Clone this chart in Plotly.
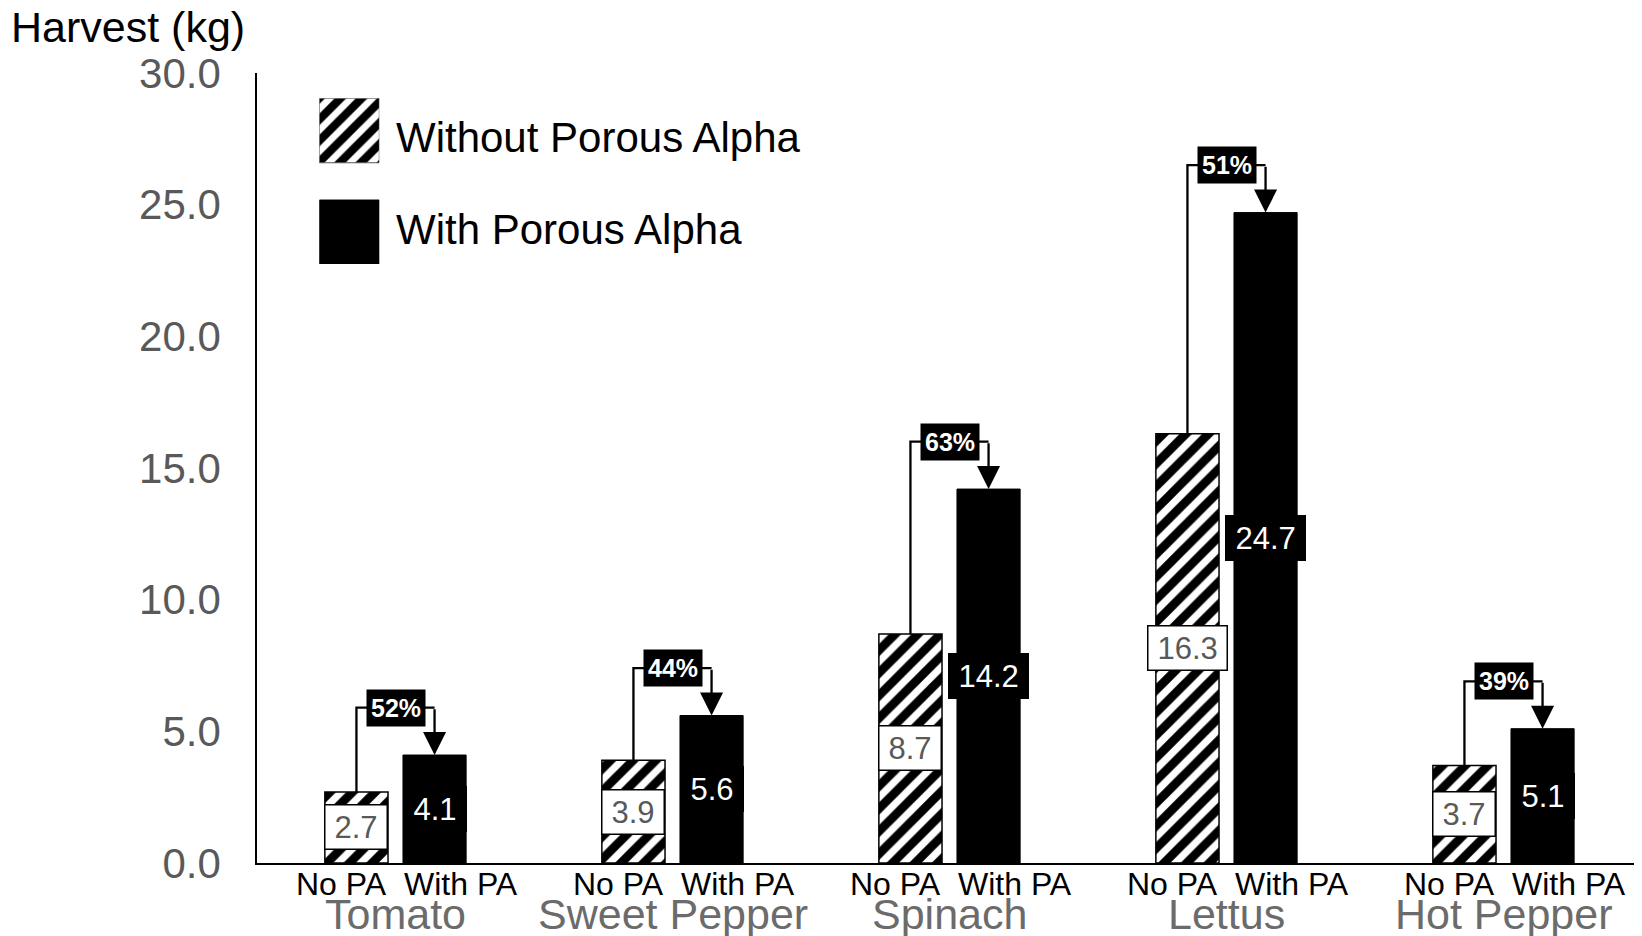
import plotly.graph_objects as go

# ---- data ----
categories = ["Tomato", "Sweet Pepper", "Spinach", "Lettus", "Hot Pepper"]
no_pa = [2.7, 3.9, 8.7, 16.3, 3.7]
with_pa = [4.1, 5.6, 14.2, 24.7, 5.1]
pct_labels = ["52%", "44%", "63%", "51%", "39%"]
sub_labels = ["No PA", "With PA"]
legend_labels = ["Without Porous Alpha", "With Porous Alpha"]
y_ticks = [0, 5, 10, 15, 20, 25, 30]

# ---- geometry (page pixels; the page body has an 8px margin) ----
PAGE_OFF = 8
W, H = 1642 - PAGE_OFF, 936 - PAGE_OFF
L = 257 - PAGE_OFF
T = 73 - PAGE_OFF
B = H - (863 - PAGE_OFF)
R = 0
PW, PH = W - L - R, H - T - B


def px(x):
    return (x - PAGE_OFF - L) / PW


def py(y):
    return (H - B - (y - PAGE_OFF)) / PH


FONT = "Liberation Sans, Arial, sans-serif"
OFF = 0.141
BW = 0.228
BRACKET_GAP = 1.8

idx = list(range(len(categories)))
x_no = [i - OFF for i in idx]
x_with = [i + OFF for i in idx]

fig = go.Figure()

fig.add_trace(go.Bar(
    x=x_no, y=no_pa, width=BW, showlegend=False,
    marker=dict(color="white", line=dict(color="black", width=1.5),
                pattern=dict(shape="/", fgcolor="black", bgcolor="white",
                             size=16, solidity=0.55, fgopacity=1)),
    hoverinfo="skip",
))
fig.add_trace(go.Bar(
    x=x_with, y=with_pa, width=BW, showlegend=False,
    marker=dict(color="black", line=dict(color="black", width=1)),
    hoverinfo="skip",
))

# legend swatches on an overlay axis
fig.add_trace(go.Bar(
    x=[0.5], y=[0.389], base=[0.611], width=1, xaxis="x2", yaxis="y2",
    showlegend=False, hoverinfo="skip",
    marker=dict(color="white", line=dict(color="#555555", width=1),
                pattern=dict(shape="/", fgcolor="black", bgcolor="white",
                             size=15, solidity=0.55, fgopacity=1)),
))
fig.add_trace(go.Bar(
    x=[0.5], y=[0.386], base=[0], width=1, xaxis="x2", yaxis="y2",
    showlegend=False, hoverinfo="skip",
    marker=dict(color="black", line=dict(color="black", width=1)),
))

annotations = []
shapes = []


def text_w(s, fs):
    w = 0
    for ch in s:
        w += 0.278 if ch == "." else 0.556
    return w * fs


for i in idx:
    a, b = no_pa[i], with_pa[i]
    lvl = max(a, b) + BRACKET_GAP
    # value boxes
    for xv, v, bg, fc in ((x_no[i], a, "white", "#595959"),
                          (x_with[i], b, "black", "white")):
        s = f"{v:.1f}"
        annotations.append(dict(
            x=xv, y=v / 2, xref="x", yref="y", text=s, showarrow=False,
            font=dict(family=FONT, size=31, color=fc),
            bgcolor=bg, bordercolor="black", borderwidth=1.5, borderpad=3,
            width=text_w(s, 31) + 12, height=37,
        ))
    # bracket
    shapes.append(dict(
        type="path", xref="x", yref="y",
        path=f"M {x_no[i]},{a} V {lvl} H {x_with[i]}",
        line=dict(color="black", width=2.3),
    ))
    annotations.append(dict(
        x=x_with[i], y=b, ax=x_with[i], ay=lvl, xref="x", yref="y",
        axref="x", ayref="y", text="", showarrow=True,
        arrowhead=2, arrowsize=2.0, arrowwidth=2.3, arrowcolor="black",
        standoff=0,
    ))
    annotations.append(dict(
        x=i, y=lvl, xref="x", yref="y", text=f"<b>{pct_labels[i]}</b>",
        showarrow=False, font=dict(family=FONT, size=25, color="white"),
        bgcolor="black", borderpad=4,
    ))
    # category labels
    annotations.append(dict(
        x=i - 0.196, y=py(884), xref="x", yref="paper", text=sub_labels[0],
        showarrow=False, yanchor="middle",
        font=dict(family=FONT, size=32, color="black"),
    ))
    annotations.append(dict(
        x=i + 0.237, y=py(884), xref="x", yref="paper", text=sub_labels[1],
        showarrow=False, yanchor="middle",
        font=dict(family=FONT, size=32, color="black"),
    ))
    annotations.append(dict(
        x=i, y=py(914), xref="x", yref="paper", text=categories[i],
        showarrow=False, yanchor="middle",
        font=dict(family=FONT, size=43, color="#6b6b6b"),
    ))

# legend text
for lab, yy in zip(legend_labels, (137, 230)):
    annotations.append(dict(
        x=px(394), y=py(yy), xref="paper", yref="paper", text=lab,
        showarrow=False, xanchor="left", yanchor="middle",
        font=dict(family=FONT, size=42, color="black"),
    ))

# axis title
annotations.append(dict(
    x=px(9), y=py(27), xref="paper", yref="paper", text="Harvest (kg)",
    showarrow=False, xanchor="left", yanchor="middle",
    font=dict(family=FONT, size=43, color="black"),
))

fig.update_layout(
    width=W, height=H,
    margin=dict(l=L, r=R, t=T, b=B),
    paper_bgcolor="white", plot_bgcolor="white",
    barmode="overlay",
    font=dict(family=FONT),
    xaxis=dict(range=[-0.5, 4.5], showline=True, linecolor="black",
               linewidth=2, showticklabels=False, showgrid=False,
               zeroline=False, ticks="", fixedrange=True),
    yaxis=dict(range=[0, 30], tickvals=y_ticks, tickformat=".1f",
               tickfont=dict(family=FONT, size=42, color="#595959"),
               showline=True, linecolor="black", linewidth=1.5,
               showgrid=False, zeroline=False, ticks="",
               ticklabelstandoff=26, fixedrange=True),
    xaxis2=dict(domain=[px(319.3), px(379.3)], range=[0, 1], visible=False,
                anchor="y2", fixedrange=True),
    yaxis2=dict(domain=[py(264), py(98.3)], range=[0, 1], visible=False,
                anchor="x2", fixedrange=True),
    annotations=annotations,
    shapes=shapes,
)

fig.write_html("out.html")
